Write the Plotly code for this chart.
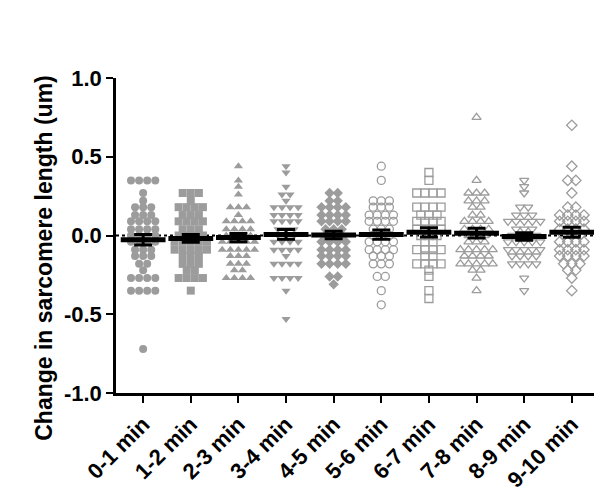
import plotly.graph_objects as go
import numpy as np

categories = ["0-1 min", "1-2 min", "2-3 min", "3-4 min", "4-5 min",
              "5-6 min", "6-7 min", "7-8 min", "8-9 min", "9-10 min"]
y_tickvals = [-1.0, -0.5, 0.0, 0.5, 1.0]
y_ticktext = ["-1.0", "-0.5", "0.0", "0.5", "1.0"]

def rep(pairs):
    out = []
    for v, n in pairs:
        out += [v] * n
    return out

g0 = rep([(0.35,4),(0.27,1),(0.22,1),(0.18,3),(0.13,3),(0.09,4),(0.04,4),(0.0,4),
          (-0.04,4),(-0.09,3),(-0.13,3),(-0.18,2),(-0.22,1),(-0.27,4),(-0.35,4),(-0.72,1)])
g1 = rep([(0.27,3),(0.22,1),(0.18,4),(0.13,3),(0.09,4),(0.04,3),(0.0,4),(-0.04,5),
          (-0.09,5),(-0.13,3),(-0.18,3),(-0.22,2),(-0.27,4),(-0.35,1)])
g2 = rep([(0.44,1),(0.35,1),(0.31,1),(0.26,1),(0.18,3),(0.13,1),(0.09,4),(0.04,4),
          (0.0,4),(-0.04,5),(-0.09,5),(-0.13,3),(-0.18,3),(-0.22,2),(-0.27,4)])
g3 = rep([(0.44,1),(0.40,1),(0.31,1),(0.26,2),(0.22,1),(0.18,4),(0.13,4),(0.09,4),
          (0.04,3),(0.0,3),(-0.04,4),(-0.09,4),(-0.13,1),(-0.18,4),(-0.27,4),(-0.35,1),(-0.53,1)])
g4 = rep([(0.27,2),(0.22,2),(0.18,4),(0.13,4),(0.09,4),(0.04,3),(0.0,3),(-0.04,4),
          (-0.09,4),(-0.13,4),(-0.18,4),(-0.26,2),(-0.31,1)])
g5 = rep([(0.44,1),(0.35,1),(0.22,3),(0.18,3),(0.13,4),(0.09,4),(0.04,3),(0.0,3),
          (-0.04,4),(-0.09,4),(-0.13,3),(-0.18,3),(-0.26,2),(-0.35,1),(-0.44,1)])
g6 = rep([(0.40,1),(0.35,1),(0.27,4),(0.18,4),(0.13,3),(0.09,4),(0.04,4),(0.0,3),
          (-0.04,2),(-0.09,4),(-0.13,2),(-0.18,4),(-0.22,1),(-0.26,1),(-0.35,1),(-0.40,1)])
g7 = rep([(0.75,1),(0.35,1),(0.27,3),(0.22,3),(0.18,2),(0.13,2),(0.09,4),(0.04,4),
          (0.0,3),(-0.04,3),(-0.09,5),(-0.13,4),(-0.18,5),(-0.22,2),(-0.27,1),(-0.35,1)])
g8 = rep([(0.35,1),(0.31,1),(0.27,1),(0.18,2),(0.13,3),(0.09,5),(0.04,3),(0.0,4),
          (-0.04,5),(-0.09,5),(-0.13,4),(-0.18,4),(-0.27,1),(-0.35,1)])
g9 = rep([(0.70,1),(0.44,1),(0.35,2),(0.27,1),(0.18,2),(0.13,4),(0.09,4),(0.04,4),
          (0.0,3),(-0.04,4),(-0.09,4),(-0.13,4),(-0.18,3),(-0.22,2),(-0.27,1),(-0.35,1)])

groups = [g0, g1, g2, g3, g4, g5, g6, g7, g8, g9]
symbols = ["circle", "square", "triangle-up", "triangle-down", "diamond",
           "circle-open", "square-open", "triangle-up-open", "triangle-down-open", "diamond-open"]

GRAY = "#9c9c9c"
SPACING = 0.17
FONT = "Liberation Sans, Arial, sans-serif"

fig = go.Figure()

# zero reference line
fig.add_shape(type="line", xref="paper", yref="y", x0=0, x1=1, y0=0, y1=0,
              line=dict(color="black", width=2, dash="dot"), layer="below")

means, sems = [], []
for i, (vals, sym) in enumerate(zip(groups, symbols)):
    vals = np.array(vals)
    xs = np.zeros(len(vals))
    for v in np.unique(vals):
        idx = np.where(vals == v)[0]
        n = len(idx)
        xs[idx] = i + (np.arange(n) - (n - 1) / 2) * SPACING
    is_open = sym.endswith("open")
    fig.add_trace(go.Scatter(
        x=xs, y=vals, mode="markers", showlegend=False,
        marker=dict(symbol=sym, size=8, color=GRAY,
                    line=dict(color=GRAY, width=1.3 if is_open else 0)),
    ))
    means.append(vals.mean())
    sems.append(vals.std(ddof=1) / np.sqrt(len(vals)))

fig.add_trace(go.Scatter(
    x=list(range(len(categories))), y=means, mode="markers", showlegend=False,
    marker=dict(symbol="line-ew", size=32, color="black",
                line=dict(color="black", width=5)),
    error_y=dict(type="data", array=sems, visible=True, color="black",
                 thickness=3, width=9),
))

fig.update_layout(
    width=602, height=496,
    margin=dict(l=108, r=12, t=70, b=111),
    plot_bgcolor="white", paper_bgcolor="white",
    font=dict(family=FONT, color="black"),
    xaxis=dict(range=[-0.57, 9.55], tickmode="array",
               tickvals=list(range(len(categories))), ticktext=categories,
               tickangle=-45, showline=True, linecolor="black", linewidth=2.5,
               ticks="outside", ticklen=7, tickwidth=2, tickcolor="black",
               showgrid=False, zeroline=False,
               tickfont=dict(size=22, family=FONT, weight="bold")),
    yaxis=dict(range=[-1.0, 1.0], tickmode="array", tickvals=y_tickvals,
               ticktext=y_ticktext, showline=True, linecolor="black", linewidth=2.5,
               ticks="outside", ticklen=7, tickwidth=2, tickcolor="black",
               showgrid=False, zeroline=False,
               tickfont=dict(size=22, family=FONT, weight="bold")),
    annotations=[dict(text="<b>Change in sarcomere length (um)</b>",
                      xref="paper", yref="paper", x=-0.151, y=0.43,
                      xanchor="center", yanchor="middle", textangle=-90,
                      showarrow=False,
                      font=dict(size=23, family=FONT, color="black"))],
)

fig.write_html("out.html")
